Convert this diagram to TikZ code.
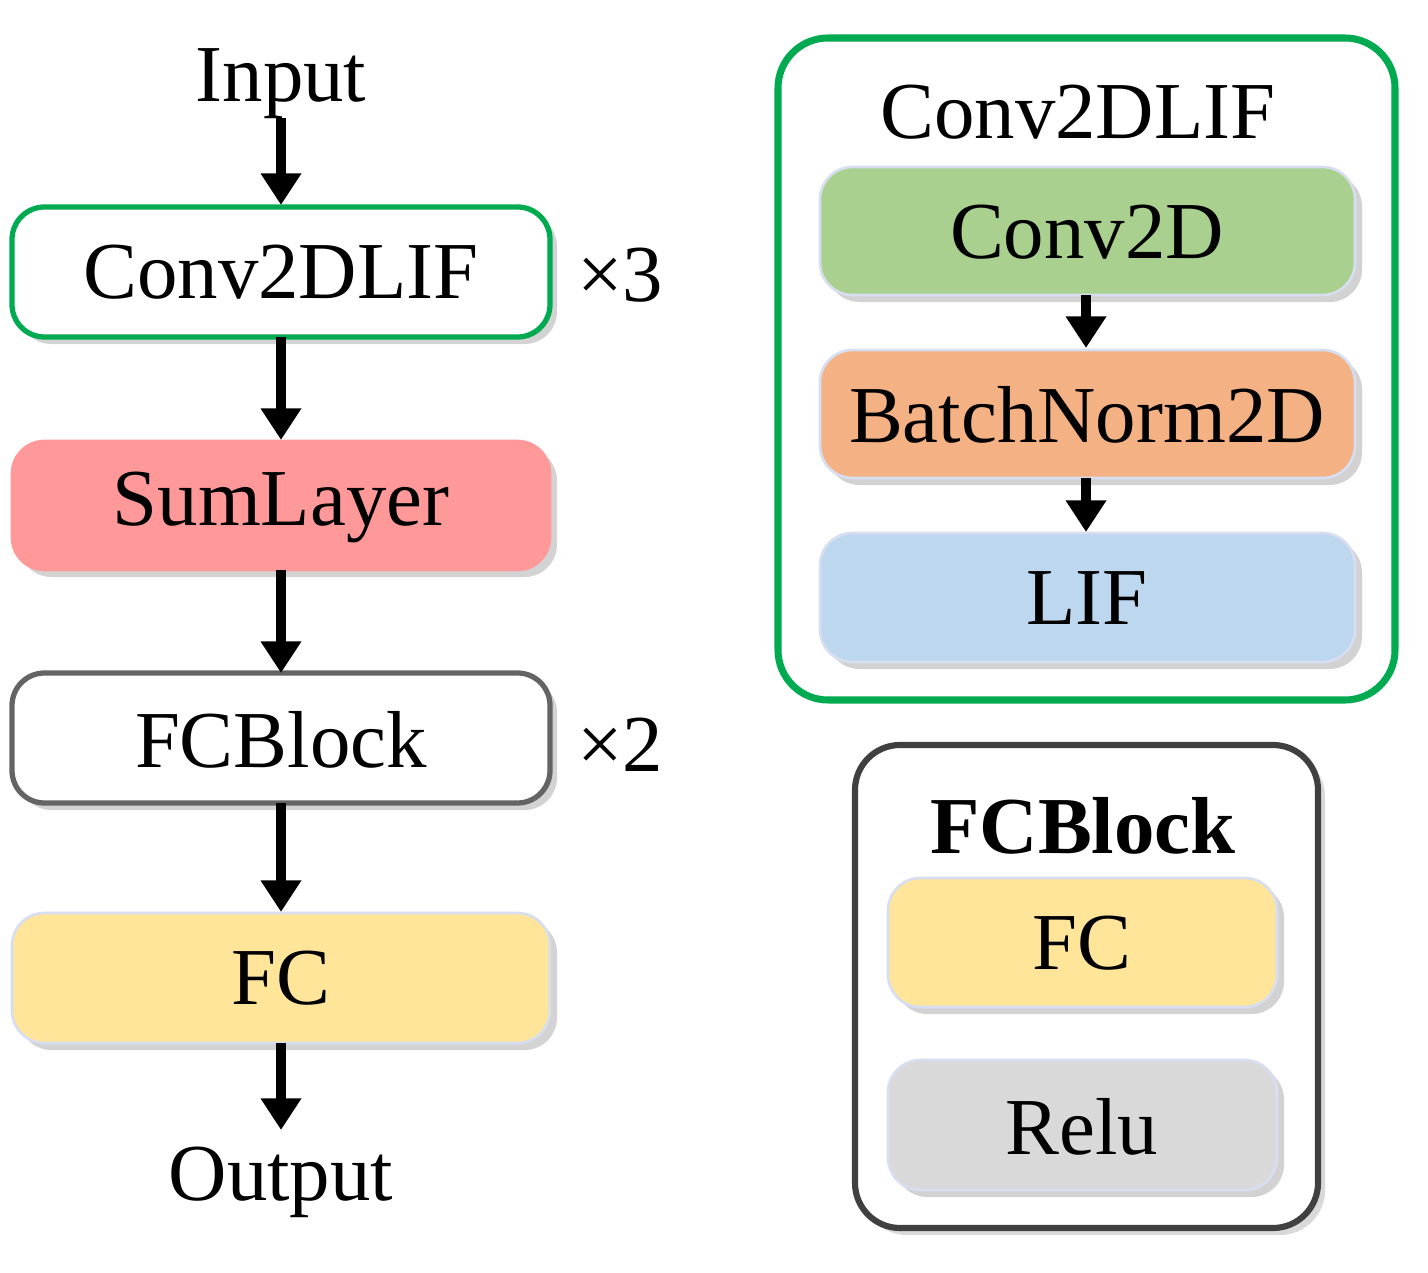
\documentclass[tikz,border=0pt]{standalone}
\usepackage{fontspec}
\setmainfont{Liberation Serif}
\usetikzlibrary{shadows,arrows.meta}
\definecolor{grn}{RGB}{0,170,80}
\definecolor{gr}{RGB}{100,100,100}
\definecolor{dg}{RGB}{64,64,64}
\definecolor{pink}{RGB}{255,153,153}
\definecolor{yel}{RGB}{255,229,153}
\definecolor{cgreen}{RGB}{169,208,142}
\definecolor{corange}{RGB}{244,177,131}
\definecolor{cblue}{RGB}{189,215,238}
\definecolor{cgray}{RGB}{217,217,217}
\definecolor{lb}{RGB}{215,222,240}
\begin{document}
\begin{tikzpicture}[x=0.02cm,y=-0.02cm,
 box/.style={draw=lb,line width=1.5pt,rounded corners=0.65cm,drop shadow={shadow xshift=4pt,shadow yshift=-4pt,opacity=0.35}},
 txt/.style={font=\fontsize{46}{50}\selectfont},
 arr/.style={line width=6pt,-{Triangle[length=18pt,width=22pt]}}]
\useasboundingbox (0,0) rectangle (1428,1273);
% left column
\node[txt] (in) at (281,84) {Input};
\draw[box,draw=grn,line width=3pt,fill=white] (12,207) rectangle (550,337);
\node[txt] (c1) at (281,272) {Conv2DLIF};
\draw[box,fill=pink,draw=pink] (12,441) rectangle (550,570);
\node[txt] (s1) at (281,507) {SumLayer};
\draw[box,draw=gr,line width=3pt,fill=white] (12,673) rectangle (550,803);
\node[txt] (f1) at (281,740) {FCBlock};
\draw[box,fill=yel] (12,913) rectangle (550,1043);
\node[txt] (fc) at (281,978) {FC};
\node[txt] (out) at (281,1182) {Output};
\node[txt] (x3) at (620,275) {×3};
\node[txt] (x2) at (620,745) {×2};
\coordinate (a0) at (281,118); \coordinate (a1) at (281,205);
\coordinate (b0) at (281,337); \coordinate (b1) at (281,440);
\coordinate (c0) at (281,570); \coordinate (c1e) at (281,673);
\coordinate (d0) at (281,803); \coordinate (d1) at (281,912);
\coordinate (e0) at (281,1043); \coordinate (e1) at (281,1130);
\draw[arr] (a0)--(a1); \draw[arr] (b0)--(b1); \draw[arr] (c0)--(c1e);
\draw[arr] (d0)--(d1); \draw[arr] (e0)--(e1);
% right top
\draw[draw=grn,line width=4pt,rounded corners=1cm,fill=white] (778,38) rectangle (1395,700);
\node[txt] (t1) at (1078,112) {Conv2DLIF};
\draw[box,fill=cgreen] (820,167) rectangle (1355,295);
\node[txt] (cv) at (1087,232) {Conv2D};
\draw[box,fill=corange] (820,350) rectangle (1355,478);
\node[txt] (bn) at (1087,415) {BatchNorm2D};
\draw[box,fill=cblue] (820,533) rectangle (1355,662);
\node[txt] (lif) at (1087,598) {LIF};
\coordinate (p0) at (1086,295); \coordinate (p1) at (1086,348);
\coordinate (q0) at (1086,478); \coordinate (q1) at (1086,532);
\draw[arr] (p0)--(p1); \draw[arr] (q0)--(q1);
% right bottom
\draw[draw=dg,line width=3.5pt,rounded corners=0.9cm,fill=white,drop shadow={shadow xshift=4pt,shadow yshift=-4pt,opacity=0.3}] (855,745) rectangle (1318,1228);
\node[txt,font=\fontsize{46}{50}\selectfont\bfseries] (t2) at (1083,826) {FCBlock};
\draw[box,fill=yel] (888,878) rectangle (1277,1007);
\node[txt] (fc2) at (1082,943) {FC};
\draw[box,fill=cgray] (888,1060) rectangle (1277,1190);
\node[txt] (re) at (1082,1127) {Relu};
\end{tikzpicture}
\end{document}
